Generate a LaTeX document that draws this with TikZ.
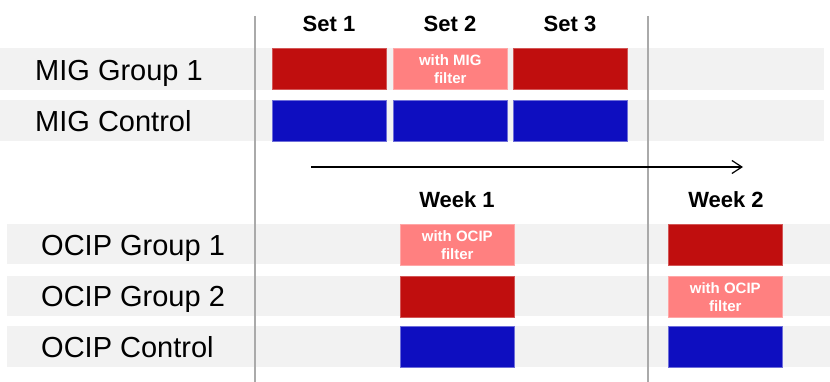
\documentclass[tikz,border=0pt]{standalone}
\usepackage{fontspec}
\setmainfont{Liberation Sans}
\usetikzlibrary{arrows.meta}
\definecolor{darkredc}{RGB}{192,14,14}
\definecolor{pinkc}{RGB}{255,128,128}
\definecolor{bluec}{RGB}{14,14,192}
\definecolor{rowgray}{RGB}{242,242,242}
\definecolor{vlinec}{RGB}{170,170,170}
\tikzset{
  rowbg/.style={fill=rowgray, draw=none},
  cell/.style={rectangle, inner sep=0pt, minimum width=114pt, minimum height=41pt, anchor=north west},
  redcell/.style={cell, fill=darkredc, draw=darkredc!70!white, line width=0.6pt},
  pinkcell/.style={cell, fill=pinkc, draw=pinkc!70!white, line width=0.6pt, text=white,
     font=\fontsize{15}{18}\selectfont\bfseries, align=center},
  bluecell/.style={cell, fill=bluec, draw=bluec!60!white, line width=0.6pt},
  rowlabel/.style={anchor=base west, inner sep=0pt, font=\fontsize{29}{33}\selectfont},
  collabel/.style={anchor=base, inner sep=0pt, font=\fontsize{22}{26}\selectfont\bfseries},
  divider/.style={draw=vlinec, line width=1.3pt},
}
\begin{document}
\begin{tikzpicture}[x=1pt, y=-1pt]
\useasboundingbox (0,0) rectangle (830,382);
% row backgrounds
\fill[rowbg] (0,48) rectangle (824,90);
\fill[rowbg] (0,100) rectangle (824,141);
\fill[rowbg] (7,224) rectangle (830,264);
\fill[rowbg] (7,276) rectangle (830,316);
\fill[rowbg] (7,326) rectangle (830,367);
% dividers
\coordinate (d1t) at (255,16);
\coordinate (d1b) at (255,382);
\coordinate (d2t) at (648,16);
\coordinate (d2b) at (648,382);
\draw[divider] (d1t) -- (d1b);
\draw[divider] (d2t) -- (d2b);
% row labels
\node[rowlabel] (lmig1) at (35,81) {MIG Group 1};
\node[rowlabel] (lmigc) at (35,132) {MIG Control};
\node[rowlabel] (locip1) at (41,255) {OCIP Group 1};
\node[rowlabel] (locip2) at (41,306) {OCIP Group 2};
\node[rowlabel] (locipc) at (41,357) {OCIP Control};
% column labels
\node[collabel] (set1) at (329,32) {Set 1};
\node[collabel] (set2) at (450,32) {Set 2};
\node[collabel] (set3) at (570,32) {Set 3};
\node[collabel] (wk1) at (457,208) {Week 1};
\node[collabel] (wk2) at (726,208) {Week 2};
% MIG cells
\node[redcell] (m11) at (272,48) {};
\node[pinkcell] (m12) at (393,48) {with MIG\\filter};
\node[redcell] (m13) at (513,48) {};
\node[bluecell] (mc1) at (272,100) {};
\node[bluecell] (mc2) at (393,100) {};
\node[bluecell] (mc3) at (513,100) {};
% arrow
\coordinate (as) at (311,167);
\coordinate (ae) at (743,167);
\draw[line width=1.2pt, -{Straight Barb[length=10pt, width=13pt, line width=1.2pt]}] (as) -- (ae);
% OCIP cells
\node[pinkcell] (o11) at (400,224) {with OCIP\\filter};
\node[redcell] (o12) at (668,224) {};
\node[redcell] (o21) at (400,276) {};
\node[pinkcell] (o22) at (668,276) {with OCIP\\filter};
\node[bluecell] (oc1) at (400,326) {};
\node[bluecell] (oc2) at (668,326) {};
\end{tikzpicture}
\end{document}
